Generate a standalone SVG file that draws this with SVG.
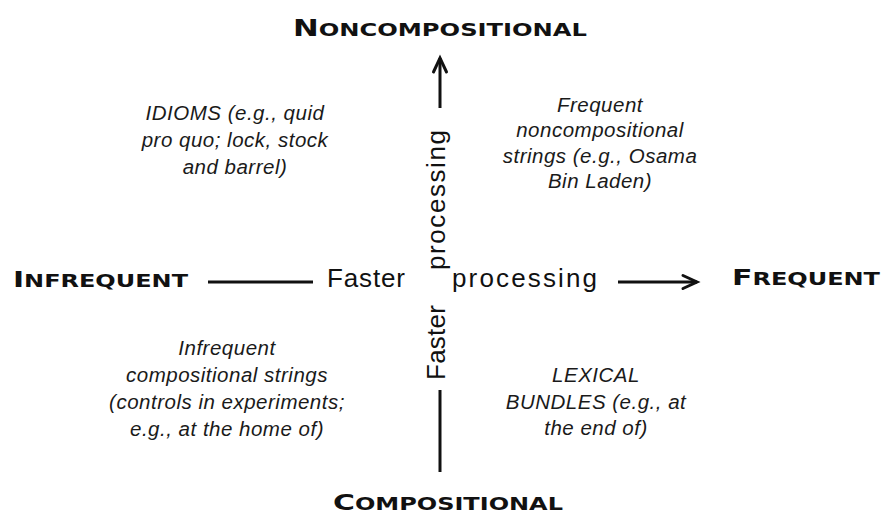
<svg xmlns="http://www.w3.org/2000/svg" width="882" height="515" viewBox="0 0 882 515">
<style>
.pole{font-family:"DejaVu Sans","Liberation Sans",sans-serif;font-weight:bold;fill:#111;}
.axis{font-family:"Liberation Sans",Arial,sans-serif;font-size:26px;fill:#111;}
.quad{font-family:"Liberation Sans",Arial,sans-serif;font-style:italic;font-size:20.5px;letter-spacing:0.5px;fill:#1a1a1a;text-anchor:middle;}
.ln{stroke:#111;stroke-width:3;fill:none;}
</style>
<defs>
<marker id="chev" markerUnits="userSpaceOnUse" orient="auto" refX="0" refY="0" markerWidth="30" markerHeight="30" overflow="visible">
<path d="M-14,-6.5 L0,0 L-14,6.5" fill="none" stroke="#111" stroke-width="3" stroke-linecap="round" stroke-linejoin="miter"/>
</marker>
</defs>
<rect width="882" height="515" fill="#fff"/>
<g id="connectors">
<line class="ln" x1="208" y1="282" x2="313" y2="282"/>
<line class="ln" x1="618" y1="282" x2="697" y2="282" marker-end="url(#chev)"/>
<line class="ln" x1="440" y1="108" x2="440" y2="58" marker-end="url(#chev)"/>
<line class="ln" x1="440" y1="390" x2="440" y2="472"/>
</g>
<g id="noncompositional">
<text class="pole" x="293" y="36" textLength="294" lengthAdjust="spacingAndGlyphs"><tspan font-size="23.5">N</tspan><tspan font-size="18.5">ONCOMPOSITIONAL</tspan></text>
</g>
<g id="compositional">
<text class="pole" x="333" y="510" textLength="230" lengthAdjust="spacingAndGlyphs"><tspan font-size="21.3">C</tspan><tspan font-size="17.1">OMPOSITIONAL</tspan></text>
</g>
<g id="infrequent">
<text class="pole" x="13" y="287" textLength="175" lengthAdjust="spacingAndGlyphs"><tspan font-size="21.3">I</tspan><tspan font-size="17.1">NFREQUENT</tspan></text>
</g>
<g id="frequent">
<text class="pole" x="732" y="285" textLength="148" lengthAdjust="spacingAndGlyphs"><tspan font-size="21.3">F</tspan><tspan font-size="17.1">REQUENT</tspan></text>
</g>
<g id="axis-labels">
<text class="axis" x="327" y="287" textLength="78" lengthAdjust="spacing">Faster</text>
<text class="axis" x="452" y="287" textLength="145" lengthAdjust="spacing">processing</text>
<text class="axis" transform="translate(445,380) rotate(-90)" x="0" y="0" textLength="75" lengthAdjust="spacing">Faster</text>
<text class="axis" transform="translate(445,270) rotate(-90)" x="0" y="0" textLength="140" lengthAdjust="spacing">processing</text>
</g>
<g id="idioms">
<text class="quad" x="235" y="119.5">IDIOMS (e.g., quid</text>
<text class="quad" x="235" y="146.5">pro quo; lock, stock</text>
<text class="quad" x="235" y="173.5">and barrel)</text>
</g>
<g id="frequent-noncompositional">
<text class="quad" x="600" y="111.5">Frequent</text>
<text class="quad" x="600" y="137">noncompositional</text>
<text class="quad" x="600" y="162.5">strings (e.g., Osama</text>
<text class="quad" x="600" y="188">Bin Laden)</text>
</g>
<g id="infrequent-compositional">
<text class="quad" x="227" y="355">Infrequent</text>
<text class="quad" x="227" y="382">compositional strings</text>
<text class="quad" x="227" y="409">(controls in experiments;</text>
<text class="quad" x="227" y="435.5">e.g., at the home of)</text>
</g>
<g id="lexical-bundles">
<text class="quad" x="596" y="382">LEXICAL</text>
<text class="quad" x="596" y="408.5">BUNDLES (e.g., at</text>
<text class="quad" x="596" y="435">the end of)</text>
</g>
</svg>
